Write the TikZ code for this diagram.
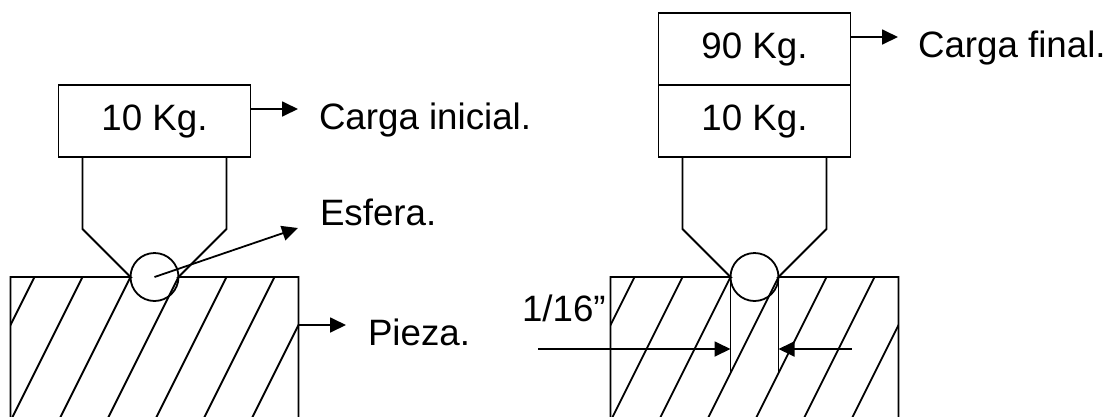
\documentclass[tikz,border=0pt]{standalone}
\usepackage{fontspec}
\setmainfont{Liberation Sans}
\usetikzlibrary{arrows.meta}
\tikzset{
  x=1pt,y=-1pt,
  ln/.style={line width=1.8pt,black,line join=miter},
  arr/.style={ln,-{Triangle[length=16pt,width=15pt]}},
  box/.style={draw,line width=1.8pt,minimum width=192pt,minimum height=72pt,inner sep=0pt,outer sep=0pt,font=\fontsize{36.7}{37}\selectfont},
  lab/.style={inner sep=0pt,outer sep=0pt,anchor=base west,font=\fontsize{36.7}{37}\selectfont},
  ball/.style={draw,circle,line width=1.8pt,minimum size=48pt,inner sep=0pt,outer sep=0pt}
}
\begin{document}
\begin{tikzpicture}
\useasboundingbox (0,0) rectangle (1112,416);
% hatching of both pieces
\foreach \off in {0,600}{
  \begin{scope}[xshift=\off pt]
    \clip (10.5,277) rectangle (298.5,417);
    \foreach \t in {34.5,82.5,130.5,178.5,226.5,274.5,322.5}
      \draw[ln] (\t,277) -- ({\t-84},445);
  \end{scope}
  \begin{scope}[xshift=\off pt]
    \draw[ln] (10.5,417) -- (10.5,277) -- (130.5,277) -- (82.5,229) -- (82.5,157);
    \draw[ln] (298.5,417) -- (298.5,277) -- (178.5,277) -- (226.5,229) -- (226.5,157);
  \end{scope}
}
% left figure
\node[box] (boxA) at (154.5,121) {10 Kg.};
\node[ball] (ballA) at (154.5,277) {};
\coordinate (ballAc) at (154.5,277);
\node[lab] (cargaI) at (319,129) {Carga inicial.};
\node[lab] (esfera) at (320,225) {Esfera.};
\node[lab] (pieza) at (368,345) {Pieza.};
\coordinate (a1) at (298,109);
\coordinate (a2) at (298,228);
\coordinate (a3) at (346,325);
\coordinate (a3s) at (298.5,325);
\draw[arr] (boxA.east |- a1) -- (a1);
\draw[arr] (ballAc) -- (a2);
\draw[arr] (a3s) -- (a3);
% right figure
\node[box] (boxC) at (754.5,49) {90 Kg.};
\node[box] (boxB) at (754.5,121) {10 Kg.};
\node[ball] (ballB) at (754.5,277) {};
\node[lab] (cargaF) at (918,57) {Carga final.};
\node[lab] (dim) at (522,321.5) {1/16”};
\coordinate (b1) at (898,37);
\draw[arr] (boxC.east |- b1) -- (b1);
\coordinate (ct1) at (730.5,277);
\coordinate (cb1) at (730.5,373);
\coordinate (ct2) at (778.5,277);
\coordinate (cb2) at (778.5,373);
\draw[ln] (ct1) -- (cb1);
\draw[ln] (ct2) -- (cb2);
\coordinate (d1) at (538,349);
\coordinate (d2) at (851.5,349);
\draw[arr] (d1) -- (cb1 |- d1);
\draw[arr] (d2) -- (cb2 |- d2);
\end{tikzpicture}
\end{document}
